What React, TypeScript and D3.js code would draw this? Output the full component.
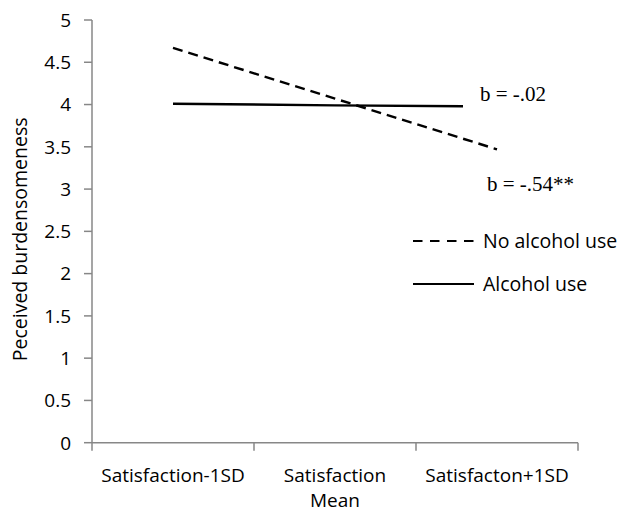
import React, { useRef, useEffect } from 'react'
import * as d3 from 'd3'

const categories = [['Satisfaction-1SD'], ['Satisfaction', 'Mean'], ['Satisfacton+1SD']]
const yTicks = [0, 0.5, 1, 1.5, 2, 2.5, 3, 3.5, 4, 4.5, 5]

// position along the category axis (0 = first category)
const noAlcoholX = [0, 1, 2]
const noAlcoholY = [4.67, 4.07, 3.47]
const alcoholX = [0, 1, 1.79]
const alcoholY = [4.01, 3.99, 3.98]

const seriesNames = ['No alcohol use', 'Alcohol use']
const slopeLabels = ['b = -.02', 'b = -.54**']

export default function App() {
    const ref = useRef<SVGSVGElement>(null)
    const width = 629
    const height = 513
    const margin = { top: 20, right: 51, bottom: 70, left: 92 }

    useEffect(() => {
        const svg = d3.select(ref.current)
        svg.selectAll('*').remove()

        const plotW = width - margin.left - margin.right
        const bottom = height - margin.bottom

        const band = d3
            .scaleBand<number>()
            .domain(d3.range(categories.length))
            .range([margin.left, width - margin.right])
        const x = (v: number) => band(0)! + band.bandwidth() / 2 + v * band.bandwidth()

        const y = d3.scaleLinear().domain([0, 5]).range([bottom - 0.3, margin.top])

        const axisColor = '#878787'
        const font = "'Open Sans', sans-serif"

        // y axis
        const ya = svg.append('g').attr('transform', `translate(${margin.left},0)`)
        ya.append('line')
            .attr('x1', 0).attr('x2', 0)
            .attr('y1', y(5)).attr('y2', y(0))
            .attr('stroke', axisColor).attr('stroke-width', 1.5)
        ya.selectAll('line.tick')
            .data(yTicks)
            .join('line')
            .attr('class', 'tick')
            .attr('x1', -8).attr('x2', 0)
            .attr('y1', (d) => y(d)).attr('y2', (d) => y(d))
            .attr('stroke', axisColor).attr('stroke-width', 1.5)
        ya.selectAll('text')
            .data(yTicks)
            .join('text')
            .attr('x', -21)
            .attr('y', (d) => y(d))
            .attr('dy', '0.36em')
            .attr('text-anchor', 'end')
            .attr('font-family', font)
            .attr('font-size', 19)
            .text((d) => String(d))

        // x axis
        const xa = svg.append('g')
        xa.append('line')
            .attr('x1', margin.left).attr('x2', margin.left + plotW)
            .attr('y1', y(0)).attr('y2', y(0))
            .attr('stroke', axisColor).attr('stroke-width', 1.5)
        xa.selectAll('line.tick')
            .data(d3.range(categories.length + 1))
            .join('line')
            .attr('class', 'tick')
            .attr('x1', (i) => margin.left + i * band.bandwidth())
            .attr('x2', (i) => margin.left + i * band.bandwidth())
            .attr('y1', y(0)).attr('y2', y(0) + 8)
            .attr('stroke', axisColor).attr('stroke-width', 1.5)
        categories.forEach((lines, i) => {
            lines.forEach((l, j) => {
                xa.append('text')
                    .attr('x', x(i))
                    .attr('y', y(0) + 39 + j * 25)
                    .attr('text-anchor', 'middle')
                    .attr('font-family', font)
                    .attr('font-size', 19)
                    .text(l)
            })
        })

        // y title
        svg.append('text')
            .attr('transform', `translate(27,${(y(5) + y(0)) / 2 + 8}) rotate(-90)`)
            .attr('text-anchor', 'middle')
            .attr('font-family', font)
            .attr('font-size', 19.5)
            .text('Peceived burdensomeness')

        const line = d3.line<[number, number]>().x((d) => x(d[0])).y((d) => y(d[1]))

        svg.append('path')
            .datum(noAlcoholX.map((v, i) => [v, noAlcoholY[i]] as [number, number]))
            .attr('d', line)
            .attr('fill', 'none')
            .attr('stroke', '#000')
            .attr('stroke-width', 2.4)
            .attr('stroke-dasharray', '10,6')

        svg.append('path')
            .datum(alcoholX.map((v, i) => [v, alcoholY[i]] as [number, number]))
            .attr('d', line)
            .attr('fill', 'none')
            .attr('stroke', '#000')
            .attr('stroke-width', 2.4)

        // slope labels
        const serif = "'Liberation Serif', 'Times New Roman', serif"
        svg.append('text')
            .attr('x', 480).attr('y', 101)
            .attr('font-family', serif).attr('font-size', 21)
            .text(slopeLabels[0])
        svg.append('text')
            .attr('x', 487).attr('y', 191)
            .attr('font-family', serif).attr('font-size', 21)
            .text(slopeLabels[1])

        // legend
        const legend = svg.append('g').attr('transform', 'translate(413,241)')
        seriesNames.forEach((name, i) => {
            const g = legend.append('g').attr('transform', `translate(0,${i * 43})`)
            g.append('line')
                .attr('x1', 0).attr('x2', 61)
                .attr('stroke', '#000').attr('stroke-width', 2)
                .attr('stroke-dasharray', i === 0 ? '9.5,7.5' : null)
            g.append('text')
                .attr('x', 70).attr('dy', '0.36em')
                .attr('font-family', font).attr('font-size', 19.5)
                .text(name)
        })
    }, [])

    return (
        <svg
            ref={ref}
            width={width}
            height={height}
            style={{ position: 'absolute', left: 0, top: 0, background: '#fff' }}
        ></svg>
    )
}
